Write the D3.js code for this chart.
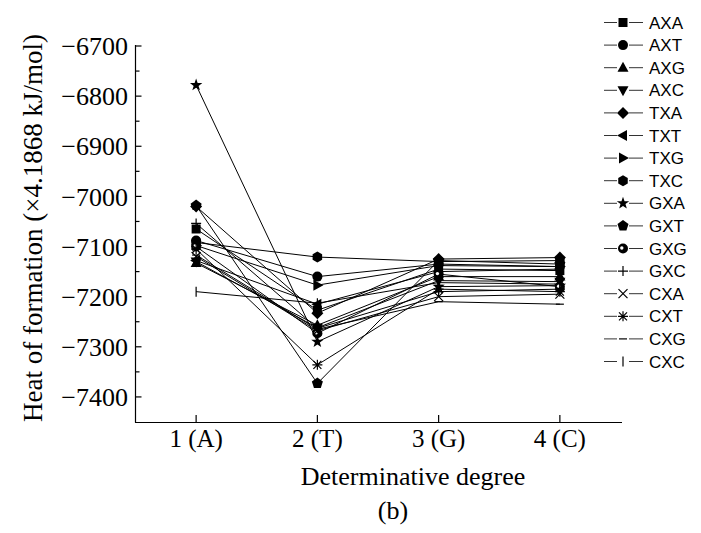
<!DOCTYPE html>
<html><head><meta charset="utf-8">
<script src="https://cdn.jsdelivr.net/npm/d3@7"></script>
<style>body{margin:0;background:#fff}svg{display:block}</style>
</head><body>
<svg id="c" width="701" height="533"></svg>
<script>
// ---- data ----
const categories = ["1 (A)", "2 (T)", "3 (G)", "4 (C)"];
const seriesNames = ["AXA","AXT","AXG","AXC","TXA","TXT","TXG","TXC","GXA","GXT","GXG","GXC","CXA","CXT","CXG","CXC"];
const AXA = [-7065, -7227, -7145, -7148];
const AXT = [-7088, -7160, -7135, -7140];
const AXG = [-7133, -7257, -7160, -7160];
const AXC = [-7130, -7262, -7168, -7170];
const TXA = [-7020, -7233, -7125, -7122];
const TXT = [-7128, -7215, -7150, -7145];
const TXG = [-7098, -7177, -7138, -7140];
const TXC = [-7092, -7121, -7130, -7128];
const GXA = [-6778, -7290, -7180, -7178];
const GXT = [-7018, -7373, -7128, -7135];
const GXG = [-7100, -7273, -7155, -7180];
const GXC = [-7054, -7263, -7190, -7185];
const CXA = [-7120, -7268, -7200, -7195];
const CXT = [-7105, -7336, -7185, -7190];
const CXG = [-7117, -7265, -7210, -7215];
const CXC = [-7190, -7213, -7172, -7175];
const seriesValues = [AXA,AXT,AXG,AXC,TXA,TXT,TXG,TXC,GXA,GXT,GXG,GXC,CXA,CXT,CXG,CXC];
const markers = ["square","circle","triUp","triDown","diamond","triLeft","triRight","hexagon","star","pentagon","dotCircle","plus","times","asterisk","dash","bar"];
const yTicks = [-7400,-7300,-7200,-7100,-7000,-6900,-6800,-6700];
const yLabel = "Heat of formation (×4.1868 kJ/mol)";
const xLabel = "Determinative degree";
const caption = "(b)";

// ---- drawing ----
const svg = d3.select("#c");
const x = d3.scaleLinear().domain([0.5, 4.5]).range([135.5, 620.5]);
const y = d3.scaleLinear().domain([-7450, -6700]).range([422, 46]);
const serif = "'Liberation Serif','Times New Roman',serif";
const sans = "'Liberation Sans',Arial,sans-serif";

function poly(n, r, rot){
  const pts=[];
  for(let i=0;i<n;i++){const a=rot+i*2*Math.PI/n; pts.push([r*Math.cos(a), r*Math.sin(a)]);}
  return "M"+pts.map(p=>p.join(",")).join("L")+"Z";
}
function starPath(ro, ri){
  const pts=[];
  for(let i=0;i<10;i++){const r=i%2?ri:ro; const a=-Math.PI/2+i*Math.PI/5; pts.push([r*Math.cos(a), r*Math.sin(a)]);}
  return "M"+pts.map(p=>p.join(",")).join("L")+"Z";
}
function drawMarker(g, type, cx, cy){
  const m = g.append("g").attr("transform",`translate(${cx},${cy})`);
  const fill = p => m.append("path").attr("d",p).attr("fill","#000");
  const line = p => m.append("path").attr("d",p).attr("fill","none").attr("stroke","#000").attr("stroke-width",1.2);
  switch(type){
    case "square": fill("M-4.5,-4.5H4.5V4.5H-4.5Z"); break;
    case "circle": m.append("circle").attr("r",5).attr("fill","#000"); break;
    case "triUp": fill("M0,-6L5.5,4L-5.5,4Z"); break;
    case "triDown": fill("M0,6L5.5,-4L-5.5,-4Z"); break;
    case "triLeft": fill("M-6,0L4,-5.5L4,5.5Z"); break;
    case "triRight": fill("M6,0L-4,-5.5L-4,5.5Z"); break;
    case "diamond": fill("M0,-6L6,0L0,6L-6,0Z"); break;
    case "hexagon": fill(poly(6,5.5,Math.PI/6)); break;
    case "star": fill(starPath(6.5,2.6)); break;
    case "pentagon": fill(poly(5,5.8,-Math.PI/2)); break;
    case "dotCircle":
      m.append("circle").attr("r",5).attr("fill","#000");
      m.append("circle").attr("cx",-1.2).attr("cy",-0.5).attr("r",1.7).attr("fill","#fff"); break;
    case "plus": line("M-5,0H5M0,-5V5"); break;
    case "times": line("M-4.5,-4.5L4.5,4.5M-4.5,4.5L4.5,-4.5"); break;
    case "asterisk": line("M-5,0H5M0,-5V5M-4,-4L4,4M-4,4L4,-4"); break;
    case "dash": line("M-4,0H4"); break;
    case "bar": line("M0,-5V5"); break;
  }
}

// axes
const ax = svg.append("g").attr("stroke","#000").attr("stroke-width",1.2);
ax.append("line").attr("x1",135.5).attr("x2",135.5).attr("y1",45).attr("y2",422.5);
ax.append("line").attr("x1",135).attr("x2",622).attr("y1",422.5).attr("y2",422.5);
d3.range(-7400, -6699, 50).forEach(v=>{
  const major = v % 100 === 0;
  ax.append("line").attr("x1",135.5).attr("x2",135.5+(major?6:4)).attr("y1",y(v)).attr("y2",y(v));
});
svg.append("g").selectAll("text").data(yTicks).join("text")
  .attr("x",128).attr("y",d=>y(d)).attr("dy","0.35em")
  .attr("text-anchor","end").attr("font-family",serif).attr("font-size",26)
  .text(d=>d3.format("d")(d));
categories.forEach((c,i)=>{
  ax.append("line").attr("x1",x(i+1)).attr("x2",x(i+1)).attr("y1",422.5).attr("y2",415);
});
svg.append("g").selectAll("text").data(categories).join("text")
  .attr("x",(d,i)=>x(i+1)).attr("y",447)
  .attr("text-anchor","middle").attr("font-family",serif).attr("font-size",25)
  .text(d=>d);
svg.append("text").attr("x",413).attr("y",485).attr("text-anchor","middle")
  .attr("font-family",serif).attr("font-size",26).text(xLabel);
svg.append("text").attr("x",393).attr("y",519).attr("text-anchor","middle")
  .attr("font-family",serif).attr("font-size",26).text(caption);
svg.append("text").attr("transform","translate(42,228) rotate(-90)").attr("text-anchor","middle")
  .attr("font-family",serif).attr("font-size",27).text(yLabel);

// series lines
const lineGen = d3.line().x((d,i)=>x(i+1)).y(d=>y(d));
const lg = svg.append("g");
seriesValues.forEach(vals=>{
  lg.append("path").attr("d",lineGen(vals)).attr("fill","none").attr("stroke","#000").attr("stroke-width",1);
});
const mg = svg.append("g");
seriesValues.forEach((vals,s)=>{
  vals.forEach((v,i)=>drawMarker(mg, markers[s], x(i+1), y(v)));
});

// legend
const leg = svg.append("g");
seriesNames.forEach((name,i)=>{
  const ly = 22.5 + i*22.6;
  leg.append("line").attr("x1",604).attr("x2",617).attr("y1",ly).attr("y2",ly).attr("stroke","#333").attr("stroke-width",1);
  leg.append("line").attr("x1",629).attr("x2",643).attr("y1",ly).attr("y2",ly).attr("stroke","#333").attr("stroke-width",1);
  drawMarker(leg, markers[i], 623, ly);
  leg.append("text").attr("x",649).attr("y",ly).attr("dy","0.36em")
    .attr("font-family",sans).attr("font-size",17).text(name);
});
</script>
</body></html>
